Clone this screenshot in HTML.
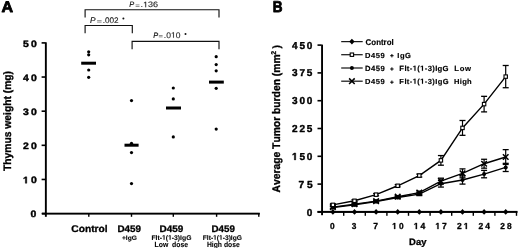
<!DOCTYPE html>
<html><head><meta charset="utf-8"><style>
html,body{margin:0;padding:0;background:#fff;}
svg{display:block;will-change:transform;}
text{font-family:"Liberation Sans",sans-serif;font-kerning:none;text-rendering:geometricPrecision;white-space:pre;}
</style></head><body>
<svg width="520" height="248" viewBox="0 0 520 248">
<rect width="520" height="248" fill="#fff"/>
<text transform="scale(1.0527,1)" x="1.33" y="12.20" font-size="15.26" style="font-weight:bold;font-style:normal;" fill="#000" stroke="#000" stroke-width="0.80" stroke-linejoin="round" >A</text>
<rect x="44.90" y="42.30" width="1.90" height="174.50" fill="#000"/>
<rect x="41.60" y="42.10" width="4.00" height="1.60" fill="#000"/>
<text transform="scale(1.1200,1)" x="20.45 27.59" y="46.71" font-size="9.32" style="font-weight:bold;font-style:normal;" fill="#000" stroke="#000" stroke-width="0.40" stroke-linejoin="round" >50</text>
<rect x="41.60" y="76.24" width="4.00" height="1.60" fill="#000"/>
<text transform="scale(1.1200,1)" x="20.45 27.59" y="80.85" font-size="9.32" style="font-weight:bold;font-style:normal;" fill="#000" stroke="#000" stroke-width="0.40" stroke-linejoin="round" >40</text>
<rect x="41.60" y="110.38" width="4.00" height="1.60" fill="#000"/>
<text transform="scale(1.1200,1)" x="20.45 27.59" y="114.98" font-size="9.31" style="font-weight:bold;font-style:normal;" fill="#000" stroke="#000" stroke-width="0.40" stroke-linejoin="round" >30</text>
<rect x="41.60" y="144.52" width="4.00" height="1.60" fill="#000"/>
<text transform="scale(1.1200,1)" x="20.45 27.59" y="149.13" font-size="9.32" style="font-weight:bold;font-style:normal;" fill="#000" stroke="#000" stroke-width="0.40" stroke-linejoin="round" >20</text>
<rect x="41.60" y="178.66" width="4.00" height="1.60" fill="#000"/>
<text transform="scale(1.1200,1)" x="27.59" y="183.27" font-size="9.32" style="font-weight:bold;font-style:normal;" fill="#000" stroke="#000" stroke-width="0.40" stroke-linejoin="round" >0</text>
<path transform="translate(22.90,183.27) scale(0.00510,-0.00455)" d="M478 0V1170L140 959V1180L493 1409H759V0Z" fill="#000" stroke="#000" stroke-width="0.40" vector-effect="non-scaling-stroke" stroke-linejoin="round"/>
<rect x="41.60" y="212.80" width="4.00" height="1.60" fill="#000"/>
<text transform="scale(1.1200,1)" x="27.32" y="217.41" font-size="9.32" style="font-weight:bold;font-style:normal;" fill="#000" stroke="#000" stroke-width="0.40" stroke-linejoin="round" >0</text>
<rect x="42.00" y="212.70" width="217.80" height="1.90" fill="#000"/>
<rect x="88.10" y="213.00" width="1.40" height="3.80" fill="#000"/>
<rect x="130.80" y="213.00" width="1.40" height="3.80" fill="#000"/>
<rect x="172.60" y="213.00" width="1.40" height="3.80" fill="#000"/>
<rect x="215.90" y="213.00" width="1.40" height="3.80" fill="#000"/>
<rect x="258.10" y="213.00" width="1.40" height="3.80" fill="#000"/>
<rect x="81.20" y="61.70" width="14.80" height="3.00" fill="#000"/>
<circle cx="88.70" cy="51.80" r="1.60" fill="#000"/>
<circle cx="88.70" cy="54.80" r="1.60" fill="#000"/>
<circle cx="88.70" cy="70.00" r="1.60" fill="#000"/>
<circle cx="88.70" cy="77.30" r="1.60" fill="#000"/>
<rect x="124.50" y="143.70" width="14.10" height="3.00" fill="#000"/>
<circle cx="131.50" cy="100.60" r="1.60" fill="#000"/>
<circle cx="131.50" cy="143.30" r="1.60" fill="#000"/>
<circle cx="131.50" cy="152.60" r="1.60" fill="#000"/>
<circle cx="131.50" cy="183.60" r="1.60" fill="#000"/>
<rect x="166.00" y="106.50" width="15.00" height="3.00" fill="#000"/>
<circle cx="173.30" cy="88.00" r="1.60" fill="#000"/>
<circle cx="173.30" cy="98.90" r="1.60" fill="#000"/>
<circle cx="173.30" cy="136.90" r="1.60" fill="#000"/>
<rect x="209.00" y="80.60" width="14.80" height="3.00" fill="#000"/>
<circle cx="216.20" cy="56.70" r="1.60" fill="#000"/>
<circle cx="216.20" cy="64.60" r="1.60" fill="#000"/>
<circle cx="216.20" cy="70.80" r="1.60" fill="#000"/>
<circle cx="216.20" cy="88.30" r="1.60" fill="#000"/>
<circle cx="216.20" cy="129.10" r="1.60" fill="#000"/>
<text transform="scale(1.0485,1)" x="68.05 75.08 81.03 86.98 90.22 94.01 99.96" y="231.85" font-size="9.74" style="font-weight:bold;font-style:normal;" fill="#000" stroke="#000" stroke-width="0.30" stroke-linejoin="round" >Control</text>
<text transform="scale(1.0289,1)" x="114.15 121.08 126.41 131.75" y="231.75" font-size="9.59" style="font-weight:bold;font-style:normal;" fill="#000" stroke="#000" stroke-width="0.30" stroke-linejoin="round" >D459</text>
<text transform="scale(1.0193,1)" x="119.65 123.47 125.28 129.28" y="240.15" font-size="6.54" style="font-weight:bold;font-style:normal;" fill="#000" stroke="#000" stroke-width="0.10" stroke-linejoin="round" >+IgG</text>
<text transform="scale(1.0376,1)" x="153.76 160.69 166.03 171.36" y="231.75" font-size="9.59" style="font-weight:bold;font-style:normal;" fill="#000" stroke="#000" stroke-width="0.30" stroke-linejoin="round" >D459</text>
<text transform="scale(1.0159,1)" x="149.08 153.16 155.02 157.25 163.19 169.14 171.37 175.08 177.31 179.17 183.25" y="239.75" font-size="6.69" style="font-weight:bold;font-style:normal;" fill="#000" stroke="#000" stroke-width="0.10" stroke-linejoin="round" >Flt-(-3)IgG</text>
<path transform="translate(162.01,239.75) scale(0.00332,-0.00326)" d="M478 0V1170L140 959V1180L493 1409H759V0Z" fill="#000" stroke="#000" stroke-width="0.10" vector-effect="non-scaling-stroke" stroke-linejoin="round"/>
<path transform="translate(168.05,239.75) scale(0.00332,-0.00326)" d="M478 0V1170L140 959V1180L493 1409H759V0Z" fill="#000" stroke="#000" stroke-width="0.10" vector-effect="non-scaling-stroke" stroke-linejoin="round"/>
<text transform="scale(0.9093,1)" x="169.97 174.58 179.20 185.08 187.18 189.28 193.90 198.51 202.72" y="246.85" font-size="7.56" style="font-weight:bold;font-style:normal;" fill="#000" stroke="#000" stroke-width="0.10" stroke-linejoin="round" >Low  dose</text>
<text transform="scale(1.0202,1)" x="207.27 214.19 219.53 224.86" y="231.75" font-size="9.59" style="font-weight:bold;font-style:normal;" fill="#000" stroke="#000" stroke-width="0.30" stroke-linejoin="round" >D459</text>
<text transform="scale(0.9956,1)" x="203.65 207.73 209.59 211.82 217.76 223.71 225.94 229.65 231.88 233.74 237.82" y="239.75" font-size="6.69" style="font-weight:bold;font-style:normal;" fill="#000" stroke="#000" stroke-width="0.10" stroke-linejoin="round" >Flt-(-3)IgG</text>
<path transform="translate(213.10,239.75) scale(0.00325,-0.00326)" d="M478 0V1170L140 959V1180L493 1409H759V0Z" fill="#000" stroke="#000" stroke-width="0.10" vector-effect="non-scaling-stroke" stroke-linejoin="round"/>
<path transform="translate(219.02,239.75) scale(0.00325,-0.00326)" d="M478 0V1170L140 959V1180L493 1409H759V0Z" fill="#000" stroke="#000" stroke-width="0.10" vector-effect="non-scaling-stroke" stroke-linejoin="round"/>
<text transform="scale(0.8977,1)" x="230.52 235.98 238.08 242.70 247.31 249.41 254.03 258.65 262.85" y="246.85" font-size="7.56" style="font-weight:bold;font-style:normal;" fill="#000" stroke="#000" stroke-width="0.10" stroke-linejoin="round" >High dose</text>
<text transform="translate(11.10,171.00) rotate(-90) scale(0.9573,1)" font-size="10.76" style="font-weight:bold" fill="#000" stroke="#000" stroke-width="0.35" stroke-linejoin="round">Thymus weight (mg)</text>
<path d="M85.10 17.40 V9.75 H219.00 V17.40" fill="none" stroke="#111" stroke-width="1.15"/>
<path d="M85.10 33.20 V25.45 H132.30 V33.20" fill="none" stroke="#111" stroke-width="1.15"/>
<path d="M132.10 49.30 V41.35 H219.00 V49.30" fill="none" stroke="#111" stroke-width="1.15"/>
<text transform="scale(0.9544,1)" x="135.35" y="7.22" font-size="7.78" style="font-weight:normal;font-style:italic;" fill="#111" stroke="#111" stroke-width="0.15" stroke-linejoin="round" >P</text>
<rect x="135.60" y="4.50" width="3.90" height="0.80" fill="#777"/>
<rect x="135.60" y="6.00" width="3.90" height="0.80" fill="#777"/>
<text transform="scale(1.1523,1)" x="121.97 128.52 132.88" y="7.25" font-size="7.85" style="font-weight:normal;font-style:normal;" fill="#1a1a1a" stroke="#1a1a1a" stroke-width="0.10" stroke-linejoin="round" >.36</text>
<path transform="translate(143.06,7.25) scale(0.00442,-0.00383)" d="M515 0V1237L197 1010V1180L530 1409H696V0Z" fill="#1a1a1a" stroke="#1a1a1a" stroke-width="0.10" vector-effect="non-scaling-stroke" stroke-linejoin="round"/>
<text transform="scale(1.0132,1)" x="88.80" y="23.23" font-size="8.21" style="font-weight:normal;font-style:italic;" fill="#111" stroke="#111" stroke-width="0.15" stroke-linejoin="round" >P</text>
<rect x="97.10" y="20.30" width="4.50" height="0.80" fill="#777"/>
<rect x="97.10" y="21.70" width="4.50" height="0.80" fill="#777"/>
<text transform="scale(1.0101,1)" x="101.62 103.88 108.41 112.94" y="23.25" font-size="8.14" style="font-weight:normal;font-style:normal;" fill="#1a1a1a" stroke="#1a1a1a" stroke-width="0.10" stroke-linejoin="round" >.002</text>
<circle cx="123.40" cy="18.50" r="1.00" fill="#111"/>
<text transform="scale(0.9369,1)" x="163.50" y="37.72" font-size="7.92" style="font-weight:normal;font-style:italic;" fill="#111" stroke="#111" stroke-width="0.15" stroke-linejoin="round" >P</text>
<rect x="158.80" y="35.00" width="3.80" height="0.80" fill="#777"/>
<rect x="158.80" y="36.50" width="3.80" height="0.80" fill="#777"/>
<text transform="scale(1.0671,1)" x="153.55 155.77 164.67" y="37.75" font-size="7.99" style="font-weight:normal;font-style:normal;" fill="#1a1a1a" stroke="#1a1a1a" stroke-width="0.10" stroke-linejoin="round" >.00</text>
<path transform="translate(170.96,37.75) scale(0.00417,-0.00390)" d="M515 0V1237L197 1010V1180L530 1409H696V0Z" fill="#1a1a1a" stroke="#1a1a1a" stroke-width="0.10" vector-effect="non-scaling-stroke" stroke-linejoin="round"/>
<circle cx="185.50" cy="34.00" r="1.00" fill="#111"/>
<text transform="scale(0.8647,1)" x="315.49" y="12.40" font-size="15.70" style="font-weight:bold;font-style:normal;" fill="#000" stroke="#000" stroke-width="0.80" stroke-linejoin="round" >B</text>
<rect x="321.10" y="44.60" width="1.90" height="170.60" fill="#000"/>
<rect x="317.50" y="44.30" width="4.00" height="1.60" fill="#000"/>
<text x="292.00 299.41 306.83" y="48.70" font-size="10.03" style="font-weight:bold;font-style:normal;" fill="#000" stroke="#000" stroke-width="0.40" stroke-linejoin="round" >450</text>
<rect x="317.50" y="72.10" width="4.00" height="1.60" fill="#000"/>
<text x="292.00 299.42 306.84" y="76.49" font-size="10.01" style="font-weight:bold;font-style:normal;" fill="#000" stroke="#000" stroke-width="0.40" stroke-linejoin="round" >375</text>
<rect x="317.50" y="99.90" width="4.00" height="1.60" fill="#000"/>
<text x="292.00 299.42 306.84" y="104.29" font-size="10.01" style="font-weight:bold;font-style:normal;" fill="#000" stroke="#000" stroke-width="0.40" stroke-linejoin="round" >300</text>
<rect x="317.50" y="127.70" width="4.00" height="1.60" fill="#000"/>
<text x="292.00 299.41 306.83" y="132.10" font-size="10.03" style="font-weight:bold;font-style:normal;" fill="#000" stroke="#000" stroke-width="0.40" stroke-linejoin="round" >225</text>
<rect x="317.50" y="155.50" width="4.00" height="1.60" fill="#000"/>
<text x="299.41 306.83" y="159.90" font-size="10.03" style="font-weight:bold;font-style:normal;" fill="#000" stroke="#000" stroke-width="0.40" stroke-linejoin="round" >50</text>
<path transform="translate(292.00,159.90) scale(0.00490,-0.00490)" d="M478 0V1170L140 959V1180L493 1409H759V0Z" fill="#000" stroke="#000" stroke-width="0.40" vector-effect="non-scaling-stroke" stroke-linejoin="round"/>
<rect x="317.50" y="183.30" width="4.00" height="1.60" fill="#000"/>
<text x="298.60 306.95" y="187.70" font-size="10.17" style="font-weight:bold;font-style:normal;" fill="#000" stroke="#000" stroke-width="0.40" stroke-linejoin="round" >75</text>
<rect x="317.50" y="211.10" width="4.00" height="1.60" fill="#000"/>
<text x="306.70" y="215.50" font-size="10.03" style="font-weight:bold;font-style:normal;" fill="#000" stroke="#000" stroke-width="0.40" stroke-linejoin="round" >0</text>
<rect x="317.50" y="210.90" width="200.00" height="2.00" fill="#000"/>
<rect x="343.00" y="211.00" width="1.40" height="4.80" fill="#000"/>
<rect x="364.60" y="211.00" width="1.40" height="4.80" fill="#000"/>
<rect x="386.20" y="211.00" width="1.40" height="4.80" fill="#000"/>
<rect x="407.80" y="211.00" width="1.40" height="4.80" fill="#000"/>
<rect x="429.40" y="211.00" width="1.40" height="4.80" fill="#000"/>
<rect x="451.00" y="211.00" width="1.40" height="4.80" fill="#000"/>
<rect x="472.60" y="211.00" width="1.40" height="4.80" fill="#000"/>
<rect x="494.20" y="211.00" width="1.40" height="4.80" fill="#000"/>
<rect x="515.80" y="211.00" width="1.40" height="4.80" fill="#000"/>
<text transform="scale(0.9700,1)" x="340.26" y="228.96" font-size="8.62" style="font-weight:bold;font-style:normal;" fill="#000" stroke="#000" stroke-width="0.30" stroke-linejoin="round" >0</text>
<text transform="scale(0.9700,1)" x="362.53" y="228.96" font-size="8.60" style="font-weight:bold;font-style:normal;" fill="#000" stroke="#000" stroke-width="0.30" stroke-linejoin="round" >3</text>
<text transform="scale(0.9700,1)" x="384.79" y="229.05" font-size="8.87" style="font-weight:bold;font-style:normal;" fill="#000" stroke="#000" stroke-width="0.30" stroke-linejoin="round" >7</text>
<text transform="scale(0.9700,1)" x="411.34" y="228.96" font-size="8.62" style="font-weight:bold;font-style:normal;" fill="#000" stroke="#000" stroke-width="0.30" stroke-linejoin="round" >0</text>
<path transform="translate(392.15,228.96) scale(0.00408,-0.00421)" d="M478 0V1170L140 959V1180L493 1409H759V0Z" fill="#000" stroke="#000" stroke-width="0.30" vector-effect="non-scaling-stroke" stroke-linejoin="round"/>
<text transform="scale(0.9700,1)" x="433.47" y="229.05" font-size="8.87" style="font-weight:bold;font-style:normal;" fill="#000" stroke="#000" stroke-width="0.30" stroke-linejoin="round" >4</text>
<path transform="translate(413.75,229.05) scale(0.00420,-0.00433)" d="M478 0V1170L140 959V1180L493 1409H759V0Z" fill="#000" stroke="#000" stroke-width="0.30" vector-effect="non-scaling-stroke" stroke-linejoin="round"/>
<text transform="scale(0.9700,1)" x="455.74" y="229.05" font-size="8.87" style="font-weight:bold;font-style:normal;" fill="#000" stroke="#000" stroke-width="0.30" stroke-linejoin="round" >7</text>
<path transform="translate(435.35,229.05) scale(0.00420,-0.00433)" d="M478 0V1170L140 959V1180L493 1409H759V0Z" fill="#000" stroke="#000" stroke-width="0.30" vector-effect="non-scaling-stroke" stroke-linejoin="round"/>
<text transform="scale(0.9700,1)" x="471.08" y="229.05" font-size="8.74" style="font-weight:bold;font-style:normal;" fill="#000" stroke="#000" stroke-width="0.30" stroke-linejoin="round" >2</text>
<path transform="translate(463.74,229.05) scale(0.00414,-0.00427)" d="M478 0V1170L140 959V1180L493 1409H759V0Z" fill="#000" stroke="#000" stroke-width="0.30" vector-effect="non-scaling-stroke" stroke-linejoin="round"/>
<text transform="scale(0.9700,1)" x="493.35 500.35" y="229.05" font-size="8.74" style="font-weight:bold;font-style:normal;" fill="#000" stroke="#000" stroke-width="0.30" stroke-linejoin="round" >24</text>
<text transform="scale(0.9700,1)" x="515.62 522.69" y="228.96" font-size="8.62" style="font-weight:bold;font-style:normal;" fill="#000" stroke="#000" stroke-width="0.30" stroke-linejoin="round" >28</text>
<text transform="scale(1.0140,1)" x="403.48 410.20 415.38" y="245.25" font-size="9.30" style="font-weight:bold;font-style:normal;" fill="#000" stroke="#000" stroke-width="0.30" stroke-linejoin="round" >Day</text>
<text transform="translate(280.10,192.40) rotate(-90) scale(0.9325,1)" font-size="11.05" style="font-weight:bold" fill="#000" stroke="#000" stroke-width="0.35" stroke-linejoin="round">Average Tumor burden (mm</text>
<text transform="translate(276.0,54.8) rotate(-90)" font-size="7.0" style="font-weight:bold" stroke="#000" stroke-width="0.25">2</text>
<text transform="translate(280.1,48.5) rotate(-90)" font-size="10.5" style="font-weight:bold" stroke="#000" stroke-width="0.3">)</text>
<polyline points="332.90,207.45 354.50,204.86 376.10,201.52 397.70,197.44 419.30,194.11 440.90,183.73 462.50,180.02 484.10,174.09 505.70,167.42" fill="none" stroke="#000" stroke-width="1.4"/>
<line x1="332.90" y1="206.34" x2="332.90" y2="208.56" stroke="#000" stroke-width="1.2" />
<line x1="329.90" y1="206.34" x2="335.90" y2="206.34" stroke="#000" stroke-width="1.3" />
<line x1="329.90" y1="208.56" x2="335.90" y2="208.56" stroke="#000" stroke-width="1.3" />
<line x1="354.50" y1="203.75" x2="354.50" y2="205.97" stroke="#000" stroke-width="1.2" />
<line x1="351.50" y1="203.75" x2="357.50" y2="203.75" stroke="#000" stroke-width="1.3" />
<line x1="351.50" y1="205.97" x2="357.50" y2="205.97" stroke="#000" stroke-width="1.3" />
<line x1="376.10" y1="200.41" x2="376.10" y2="202.63" stroke="#000" stroke-width="1.2" />
<line x1="373.10" y1="200.41" x2="379.10" y2="200.41" stroke="#000" stroke-width="1.3" />
<line x1="373.10" y1="202.63" x2="379.10" y2="202.63" stroke="#000" stroke-width="1.3" />
<line x1="397.70" y1="196.33" x2="397.70" y2="198.56" stroke="#000" stroke-width="1.2" />
<line x1="394.70" y1="196.33" x2="400.70" y2="196.33" stroke="#000" stroke-width="1.3" />
<line x1="394.70" y1="198.56" x2="400.70" y2="198.56" stroke="#000" stroke-width="1.3" />
<line x1="419.30" y1="192.63" x2="419.30" y2="195.59" stroke="#000" stroke-width="1.2" />
<line x1="416.30" y1="192.63" x2="422.30" y2="192.63" stroke="#000" stroke-width="1.3" />
<line x1="416.30" y1="195.59" x2="422.30" y2="195.59" stroke="#000" stroke-width="1.3" />
<line x1="440.90" y1="180.39" x2="440.90" y2="187.07" stroke="#000" stroke-width="1.2" />
<line x1="437.90" y1="180.39" x2="443.90" y2="180.39" stroke="#000" stroke-width="1.3" />
<line x1="437.90" y1="187.07" x2="443.90" y2="187.07" stroke="#000" stroke-width="1.3" />
<line x1="462.50" y1="175.95" x2="462.50" y2="184.10" stroke="#000" stroke-width="1.2" />
<line x1="459.50" y1="175.95" x2="465.50" y2="175.95" stroke="#000" stroke-width="1.3" />
<line x1="459.50" y1="184.10" x2="465.50" y2="184.10" stroke="#000" stroke-width="1.3" />
<line x1="484.10" y1="170.39" x2="484.10" y2="177.80" stroke="#000" stroke-width="1.2" />
<line x1="481.10" y1="170.39" x2="487.10" y2="170.39" stroke="#000" stroke-width="1.3" />
<line x1="481.10" y1="177.80" x2="487.10" y2="177.80" stroke="#000" stroke-width="1.3" />
<line x1="505.70" y1="163.34" x2="505.70" y2="171.50" stroke="#000" stroke-width="1.2" />
<line x1="502.70" y1="163.34" x2="508.70" y2="163.34" stroke="#000" stroke-width="1.3" />
<line x1="502.70" y1="171.50" x2="508.70" y2="171.50" stroke="#000" stroke-width="1.3" />
<circle cx="332.90" cy="207.45" r="2.00" fill="#000"/>
<circle cx="354.50" cy="204.86" r="2.00" fill="#000"/>
<circle cx="376.10" cy="201.52" r="2.00" fill="#000"/>
<circle cx="397.70" cy="197.44" r="2.00" fill="#000"/>
<circle cx="419.30" cy="194.11" r="2.00" fill="#000"/>
<circle cx="440.90" cy="183.73" r="2.00" fill="#000"/>
<circle cx="462.50" cy="180.02" r="2.00" fill="#000"/>
<circle cx="484.10" cy="174.09" r="2.00" fill="#000"/>
<circle cx="505.70" cy="167.42" r="2.00" fill="#000"/>
<polyline points="332.90,207.08 354.50,204.12 376.10,201.15 397.70,196.70 419.30,192.63 440.90,181.13 462.50,173.35 484.10,163.71 505.70,157.04" fill="none" stroke="#000" stroke-width="1.4"/>
<line x1="332.90" y1="205.97" x2="332.90" y2="208.19" stroke="#000" stroke-width="1.2" />
<line x1="329.90" y1="205.97" x2="335.90" y2="205.97" stroke="#000" stroke-width="1.3" />
<line x1="329.90" y1="208.19" x2="335.90" y2="208.19" stroke="#000" stroke-width="1.3" />
<line x1="354.50" y1="203.00" x2="354.50" y2="205.23" stroke="#000" stroke-width="1.2" />
<line x1="351.50" y1="203.00" x2="357.50" y2="203.00" stroke="#000" stroke-width="1.3" />
<line x1="351.50" y1="205.23" x2="357.50" y2="205.23" stroke="#000" stroke-width="1.3" />
<line x1="376.10" y1="200.04" x2="376.10" y2="202.26" stroke="#000" stroke-width="1.2" />
<line x1="373.10" y1="200.04" x2="379.10" y2="200.04" stroke="#000" stroke-width="1.3" />
<line x1="373.10" y1="202.26" x2="379.10" y2="202.26" stroke="#000" stroke-width="1.3" />
<line x1="397.70" y1="195.59" x2="397.70" y2="197.81" stroke="#000" stroke-width="1.2" />
<line x1="394.70" y1="195.59" x2="400.70" y2="195.59" stroke="#000" stroke-width="1.3" />
<line x1="394.70" y1="197.81" x2="400.70" y2="197.81" stroke="#000" stroke-width="1.3" />
<line x1="419.30" y1="191.14" x2="419.30" y2="194.11" stroke="#000" stroke-width="1.2" />
<line x1="416.30" y1="191.14" x2="422.30" y2="191.14" stroke="#000" stroke-width="1.3" />
<line x1="416.30" y1="194.11" x2="422.30" y2="194.11" stroke="#000" stroke-width="1.3" />
<line x1="440.90" y1="178.17" x2="440.90" y2="184.10" stroke="#000" stroke-width="1.2" />
<line x1="437.90" y1="178.17" x2="443.90" y2="178.17" stroke="#000" stroke-width="1.3" />
<line x1="437.90" y1="184.10" x2="443.90" y2="184.10" stroke="#000" stroke-width="1.3" />
<line x1="462.50" y1="168.90" x2="462.50" y2="177.80" stroke="#000" stroke-width="1.2" />
<line x1="459.50" y1="168.90" x2="465.50" y2="168.90" stroke="#000" stroke-width="1.3" />
<line x1="459.50" y1="177.80" x2="465.50" y2="177.80" stroke="#000" stroke-width="1.3" />
<line x1="484.10" y1="159.27" x2="484.10" y2="168.16" stroke="#000" stroke-width="1.2" />
<line x1="481.10" y1="159.27" x2="487.10" y2="159.27" stroke="#000" stroke-width="1.3" />
<line x1="481.10" y1="168.16" x2="487.10" y2="168.16" stroke="#000" stroke-width="1.3" />
<line x1="505.70" y1="149.63" x2="505.70" y2="164.45" stroke="#000" stroke-width="1.2" />
<line x1="502.70" y1="149.63" x2="508.70" y2="149.63" stroke="#000" stroke-width="1.3" />
<line x1="502.70" y1="164.45" x2="508.70" y2="164.45" stroke="#000" stroke-width="1.3" />
<path d="M330.10 204.28 L335.70 209.88 M335.70 204.28 L330.10 209.88" stroke="#000" stroke-width="1.5"/>
<path d="M351.70 201.32 L357.30 206.92 M357.30 201.32 L351.70 206.92" stroke="#000" stroke-width="1.5"/>
<path d="M373.30 198.35 L378.90 203.95 M378.90 198.35 L373.30 203.95" stroke="#000" stroke-width="1.5"/>
<path d="M394.90 193.90 L400.50 199.50 M400.50 193.90 L394.90 199.50" stroke="#000" stroke-width="1.5"/>
<path d="M416.50 189.83 L422.10 195.43 M422.10 189.83 L416.50 195.43" stroke="#000" stroke-width="1.5"/>
<path d="M438.10 178.33 L443.70 183.93 M443.70 178.33 L438.10 183.93" stroke="#000" stroke-width="1.5"/>
<path d="M459.70 170.55 L465.30 176.15 M465.30 170.55 L459.70 176.15" stroke="#000" stroke-width="1.5"/>
<path d="M481.30 160.91 L486.90 166.51 M486.90 160.91 L481.30 166.51" stroke="#000" stroke-width="1.5"/>
<path d="M502.90 154.24 L508.50 159.84 M508.50 154.24 L502.90 159.84" stroke="#000" stroke-width="1.5"/>
<polyline points="332.90,204.86 354.50,200.78 376.10,194.66 397.70,185.77 419.30,175.57 440.90,160.38 462.50,127.91 484.10,104.11 505.70,76.61" fill="none" stroke="#000" stroke-width="1.4"/>
<line x1="332.90" y1="203.75" x2="332.90" y2="205.97" stroke="#000" stroke-width="1.2" />
<line x1="329.90" y1="203.75" x2="335.90" y2="203.75" stroke="#000" stroke-width="1.3" />
<line x1="329.90" y1="205.97" x2="335.90" y2="205.97" stroke="#000" stroke-width="1.3" />
<line x1="354.50" y1="199.67" x2="354.50" y2="201.89" stroke="#000" stroke-width="1.2" />
<line x1="351.50" y1="199.67" x2="357.50" y2="199.67" stroke="#000" stroke-width="1.3" />
<line x1="351.50" y1="201.89" x2="357.50" y2="201.89" stroke="#000" stroke-width="1.3" />
<line x1="376.10" y1="193.55" x2="376.10" y2="195.78" stroke="#000" stroke-width="1.2" />
<line x1="373.10" y1="193.55" x2="379.10" y2="193.55" stroke="#000" stroke-width="1.3" />
<line x1="373.10" y1="195.78" x2="379.10" y2="195.78" stroke="#000" stroke-width="1.3" />
<line x1="397.70" y1="184.66" x2="397.70" y2="186.88" stroke="#000" stroke-width="1.2" />
<line x1="394.70" y1="184.66" x2="400.70" y2="184.66" stroke="#000" stroke-width="1.3" />
<line x1="394.70" y1="186.88" x2="400.70" y2="186.88" stroke="#000" stroke-width="1.3" />
<line x1="419.30" y1="174.09" x2="419.30" y2="177.06" stroke="#000" stroke-width="1.2" />
<line x1="416.30" y1="174.09" x2="422.30" y2="174.09" stroke="#000" stroke-width="1.3" />
<line x1="416.30" y1="177.06" x2="422.30" y2="177.06" stroke="#000" stroke-width="1.3" />
<line x1="440.90" y1="155.56" x2="440.90" y2="165.20" stroke="#000" stroke-width="1.2" />
<line x1="437.90" y1="155.56" x2="443.90" y2="155.56" stroke="#000" stroke-width="1.3" />
<line x1="437.90" y1="165.20" x2="443.90" y2="165.20" stroke="#000" stroke-width="1.3" />
<line x1="462.50" y1="120.49" x2="462.50" y2="135.32" stroke="#000" stroke-width="1.2" />
<line x1="459.50" y1="120.49" x2="465.50" y2="120.49" stroke="#000" stroke-width="1.3" />
<line x1="459.50" y1="135.32" x2="465.50" y2="135.32" stroke="#000" stroke-width="1.3" />
<line x1="484.10" y1="96.33" x2="484.10" y2="111.89" stroke="#000" stroke-width="1.2" />
<line x1="481.10" y1="96.33" x2="487.10" y2="96.33" stroke="#000" stroke-width="1.3" />
<line x1="481.10" y1="111.89" x2="487.10" y2="111.89" stroke="#000" stroke-width="1.3" />
<line x1="505.70" y1="65.49" x2="505.70" y2="87.73" stroke="#000" stroke-width="1.2" />
<line x1="502.70" y1="65.49" x2="508.70" y2="65.49" stroke="#000" stroke-width="1.3" />
<line x1="502.70" y1="87.73" x2="508.70" y2="87.73" stroke="#000" stroke-width="1.3" />
<rect x="331.20" y="203.16" width="3.4" height="3.4" fill="#fff" stroke="#000" stroke-width="1.1"/>
<rect x="352.80" y="199.08" width="3.4" height="3.4" fill="#fff" stroke="#000" stroke-width="1.1"/>
<rect x="374.40" y="192.96" width="3.4" height="3.4" fill="#fff" stroke="#000" stroke-width="1.1"/>
<rect x="396.00" y="184.07" width="3.4" height="3.4" fill="#fff" stroke="#000" stroke-width="1.1"/>
<rect x="417.60" y="173.87" width="3.4" height="3.4" fill="#fff" stroke="#000" stroke-width="1.1"/>
<rect x="439.20" y="158.68" width="3.4" height="3.4" fill="#fff" stroke="#000" stroke-width="1.1"/>
<rect x="460.80" y="126.21" width="3.4" height="3.4" fill="#fff" stroke="#000" stroke-width="1.1"/>
<rect x="482.40" y="102.41" width="3.4" height="3.4" fill="#fff" stroke="#000" stroke-width="1.1"/>
<rect x="504.00" y="74.91" width="3.4" height="3.4" fill="#fff" stroke="#000" stroke-width="1.1"/>
<polyline points="332.90,211.90 354.50,211.90 376.10,211.90 397.70,211.90 419.30,211.90 440.90,211.90 462.50,211.90 484.10,211.90 505.70,211.90" fill="none" stroke="#000" stroke-width="1.4"/>
<path d="M332.90 209.00 L335.60 211.90 L332.90 214.80 L330.20 211.90Z" fill="#000"/>
<path d="M354.50 209.00 L357.20 211.90 L354.50 214.80 L351.80 211.90Z" fill="#000"/>
<path d="M376.10 209.00 L378.80 211.90 L376.10 214.80 L373.40 211.90Z" fill="#000"/>
<path d="M397.70 209.00 L400.40 211.90 L397.70 214.80 L395.00 211.90Z" fill="#000"/>
<path d="M419.30 209.00 L422.00 211.90 L419.30 214.80 L416.60 211.90Z" fill="#000"/>
<path d="M440.90 209.00 L443.60 211.90 L440.90 214.80 L438.20 211.90Z" fill="#000"/>
<path d="M462.50 209.00 L465.20 211.90 L462.50 214.80 L459.80 211.90Z" fill="#000"/>
<path d="M484.10 209.00 L486.80 211.90 L484.10 214.80 L481.40 211.90Z" fill="#000"/>
<path d="M505.70 209.00 L508.40 211.90 L505.70 214.80 L503.00 211.90Z" fill="#000"/>
<line x1="341.20" y1="41.60" x2="362.70" y2="41.60" stroke="#1a1a1a" stroke-width="1.25" />
<path d="M351.90 38.70 L354.60 41.60 L351.90 44.50 L349.20 41.60Z" fill="#000"/>
<line x1="341.20" y1="54.70" x2="362.70" y2="54.70" stroke="#1a1a1a" stroke-width="1.25" />
<rect x="350.20" y="53.00" width="3.4" height="3.4" fill="#fff" stroke="#000" stroke-width="1.1"/>
<line x1="341.20" y1="68.00" x2="362.70" y2="68.00" stroke="#1a1a1a" stroke-width="1.25" />
<circle cx="351.90" cy="68.00" r="2.00" fill="#000"/>
<line x1="341.20" y1="81.20" x2="362.70" y2="81.20" stroke="#1a1a1a" stroke-width="1.25" />
<path d="M349.10 78.40 L354.70 84.00 M354.70 78.40 L349.10 84.00" stroke="#000" stroke-width="1.5"/>
<text transform="scale(0.9475,1)" x="385.85 391.88 396.99 402.09 404.88 408.13 413.24" y="44.72" font-size="8.36" style="font-weight:bold;font-style:normal;" fill="#000" stroke="#000" stroke-width="0.15" stroke-linejoin="round" >Control</text>
<text transform="scale(1.0300,1)" x="354.34 360.22 364.88 369.53" y="57.52" font-size="7.34" style="font-weight:bold;font-style:normal;" fill="#000" stroke="#000" stroke-width="0.15" stroke-linejoin="round" >D459</text>
<rect x="390.20" y="55.20" width="3.40" height="1.00" fill="#000"/>
<rect x="391.40" y="54.00" width="1.00" height="3.40" fill="#000"/>
<text transform="scale(1.0300,1)" x="354.34 360.21 364.83 369.45" y="70.83" font-size="7.49" style="font-weight:bold;font-style:normal;" fill="#000" stroke="#000" stroke-width="0.15" stroke-linejoin="round" >D459</text>
<rect x="390.20" y="68.50" width="3.40" height="1.00" fill="#000"/>
<rect x="391.40" y="67.30" width="1.00" height="3.40" fill="#000"/>
<text transform="scale(1.0300,1)" x="354.34 360.22 364.88 369.53" y="83.72" font-size="7.34" style="font-weight:bold;font-style:normal;" fill="#000" stroke="#000" stroke-width="0.15" stroke-linejoin="round" >D459</text>
<rect x="390.20" y="81.70" width="3.40" height="1.00" fill="#000"/>
<rect x="391.40" y="80.50" width="1.00" height="3.40" fill="#000"/>
<text transform="scale(1.0300,1)" x="385.70 388.25 393.24" y="57.52" font-size="7.34" style="font-weight:bold;font-style:normal;" fill="#000" stroke="#000" stroke-width="0.15" stroke-linejoin="round" >IgG</text>
<text transform="scale(1.0300,1)" x="387.74 392.63 395.02 397.82 405.10 412.38 415.18 419.66 422.46 424.85 429.73" y="70.83" font-size="7.49" style="font-weight:bold;font-style:normal;" fill="#000" stroke="#000" stroke-width="0.15" stroke-linejoin="round" >Flt-(-3)IgG</text>
<path transform="translate(412.64,70.83) scale(0.00376,-0.00366)" d="M478 0V1170L140 959V1180L493 1409H759V0Z" fill="#000" stroke="#000" stroke-width="0.15" vector-effect="non-scaling-stroke" stroke-linejoin="round"/>
<path transform="translate(420.14,70.83) scale(0.00376,-0.00366)" d="M478 0V1170L140 959V1180L493 1409H759V0Z" fill="#000" stroke="#000" stroke-width="0.15" vector-effect="non-scaling-stroke" stroke-linejoin="round"/>
<text transform="scale(1.0300,1)" x="441.14 446.25 451.37" y="70.83" font-size="7.49" style="font-weight:bold;font-style:normal;" fill="#000" stroke="#000" stroke-width="0.15" stroke-linejoin="round" >Low</text>
<text transform="scale(1.0300,1)" x="387.74 392.61 395.03 397.86 405.15 412.44 415.27 419.73 422.56 424.98 429.85" y="83.72" font-size="7.34" style="font-weight:bold;font-style:normal;" fill="#000" stroke="#000" stroke-width="0.15" stroke-linejoin="round" >Flt-(-3)IgG</text>
<path transform="translate(412.70,83.72) scale(0.00369,-0.00358)" d="M478 0V1170L140 959V1180L493 1409H759V0Z" fill="#000" stroke="#000" stroke-width="0.15" vector-effect="non-scaling-stroke" stroke-linejoin="round"/>
<path transform="translate(420.22,83.72) scale(0.00369,-0.00358)" d="M478 0V1170L140 959V1180L493 1409H759V0Z" fill="#000" stroke="#000" stroke-width="0.15" vector-effect="non-scaling-stroke" stroke-linejoin="round"/>
<text transform="scale(1.0300,1)" x="440.85 446.43 448.74 453.50" y="83.72" font-size="7.34" style="font-weight:bold;font-style:normal;" fill="#000" stroke="#000" stroke-width="0.15" stroke-linejoin="round" >High</text>
</svg>
</body></html>
